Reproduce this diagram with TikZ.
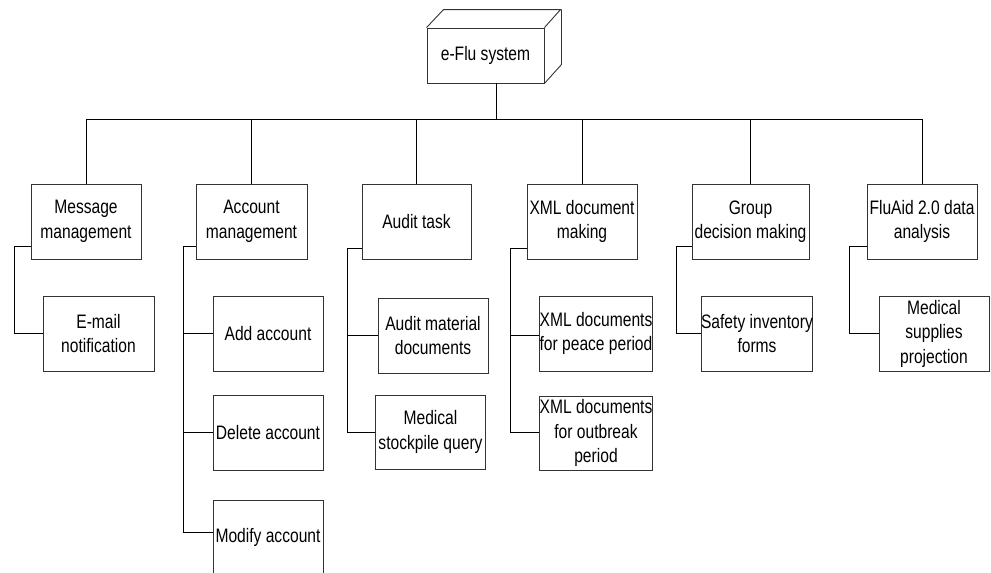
\documentclass[tikz,border=0pt]{standalone}
\usepackage{fontspec}
\setmainfont{Liberation Sans}[FakeStretch=0.8]
\begin{document}
\begin{tikzpicture}[x=1pt,y=-1pt,
  box/.style={draw=black!80, line width=0.9pt, fill=white, minimum width=110pt,
    minimum height=75pt, inner sep=0pt, align=center,
    font=\fontsize{19.5}{24.5}\selectfont},
  link/.style={draw=black, line width=1pt}]
\useasboundingbox (0,0) rectangle (991,573);
\begin{scope}
\clip (0,0) rectangle (991,573);

% root: a box drawn in perspective
\node[box, minimum width=117pt, minimum height=55pt] (root) at (485.5,55.5) {e-Flu system};
\draw[black!80, line width=0.9pt]
  (root.north west) -- ++(17,-18) -- ++(117,0) -- (root.north east)
  (root.north east) ++(17,-18) -- ++(0,55) -- (root.south east);

% first level
\node[box] (msg)   at (86,221.5)    {Message\\management};
\node[box, minimum width=111pt] (acc)   at (251.5,221.5) {Account\\management};
\node[box, minimum width=109pt] (aud)   at (416.5,221.5) {Audit task};
\node[box] (xml)   at (582,221.5)   {XML document\\making};
\node[box, minimum width=117pt] (grp)   at (750.5,221.5) {Group\\decision making};
\node[box] (flu)   at (922,221.5)   {FluAid 2.0 data\\analysis};

% second level
\node[box, minimum width=111pt] (mail) at (98.5,333.5)  {E-mail\\notification};
\node[box] (add)  at (268,333.5)   {Add account};
\node[box] (del)  at (268,432.5)   {Delete account};
\node[box] (mod)  at (268,537.5)   {Modify account};
\node[box] (audm) at (433,335.5)   {Audit material\\documents};
\node[box, minimum height=74pt] (meds) at (430.5,432) {Medical\\stockpile query};
\node[box] (peace) at (596,333.5)  {XML documents\\for peace period};
\node[box, minimum height=74pt] (outb) at (596,433) {XML documents\\for outbreak\\period};
\node[box] (safe) at (757,333.5)   {Safety inventory\\forms};
\node[box] (proj) at (934,333.5)   {Medical\\supplies\\projection};

% bus below the root
\coordinate (bus) at (496,119);
\draw[link] ([xshift=10.5pt]root.south) -- (bus);
\draw[link] (msg.north |- bus) -- (flu.north |- bus);
\foreach \n in {msg,acc,aud,xml,grp,flu}
  \draw[link] (\n.north |- bus) -- (\n.north);

% spines on the left of each branch
\coordinate (msgsp) at (14,246);
\coordinate (accsp) at (183,246);
\coordinate (audsp) at (347,248);
\coordinate (xmlsp) at (510,248);
\coordinate (grpsp) at (676,246);
\coordinate (flusp) at (849,246);

\draw[link] (msg.west |- msgsp) -- (msgsp) |- (mail.west);
\draw[link] (acc.west |- accsp) -- (accsp) |- ([yshift=5.5pt]mod.west);
\draw[link] (accsp |- add.west) -- (add.west);
\draw[link] (accsp |- del.west) -- (del.west);
\draw[link] (aud.west |- audsp) -- (audsp) |- (meds.west);
\draw[link] (audsp |- audm.west) -- (audm.west);
\draw[link] (xml.west |- xmlsp) -- (xmlsp) |- ([yshift=0.5pt]outb.west);
\draw[link] (xmlsp |- audm.west) -- (peace.west |- audm.west);
\draw[link] (grp.west |- grpsp) -- (grpsp) |- (safe.west);
\draw[link] (flu.west |- flusp) -- (flusp) |- (proj.west);
\end{scope}
\end{tikzpicture}
\end{document}
